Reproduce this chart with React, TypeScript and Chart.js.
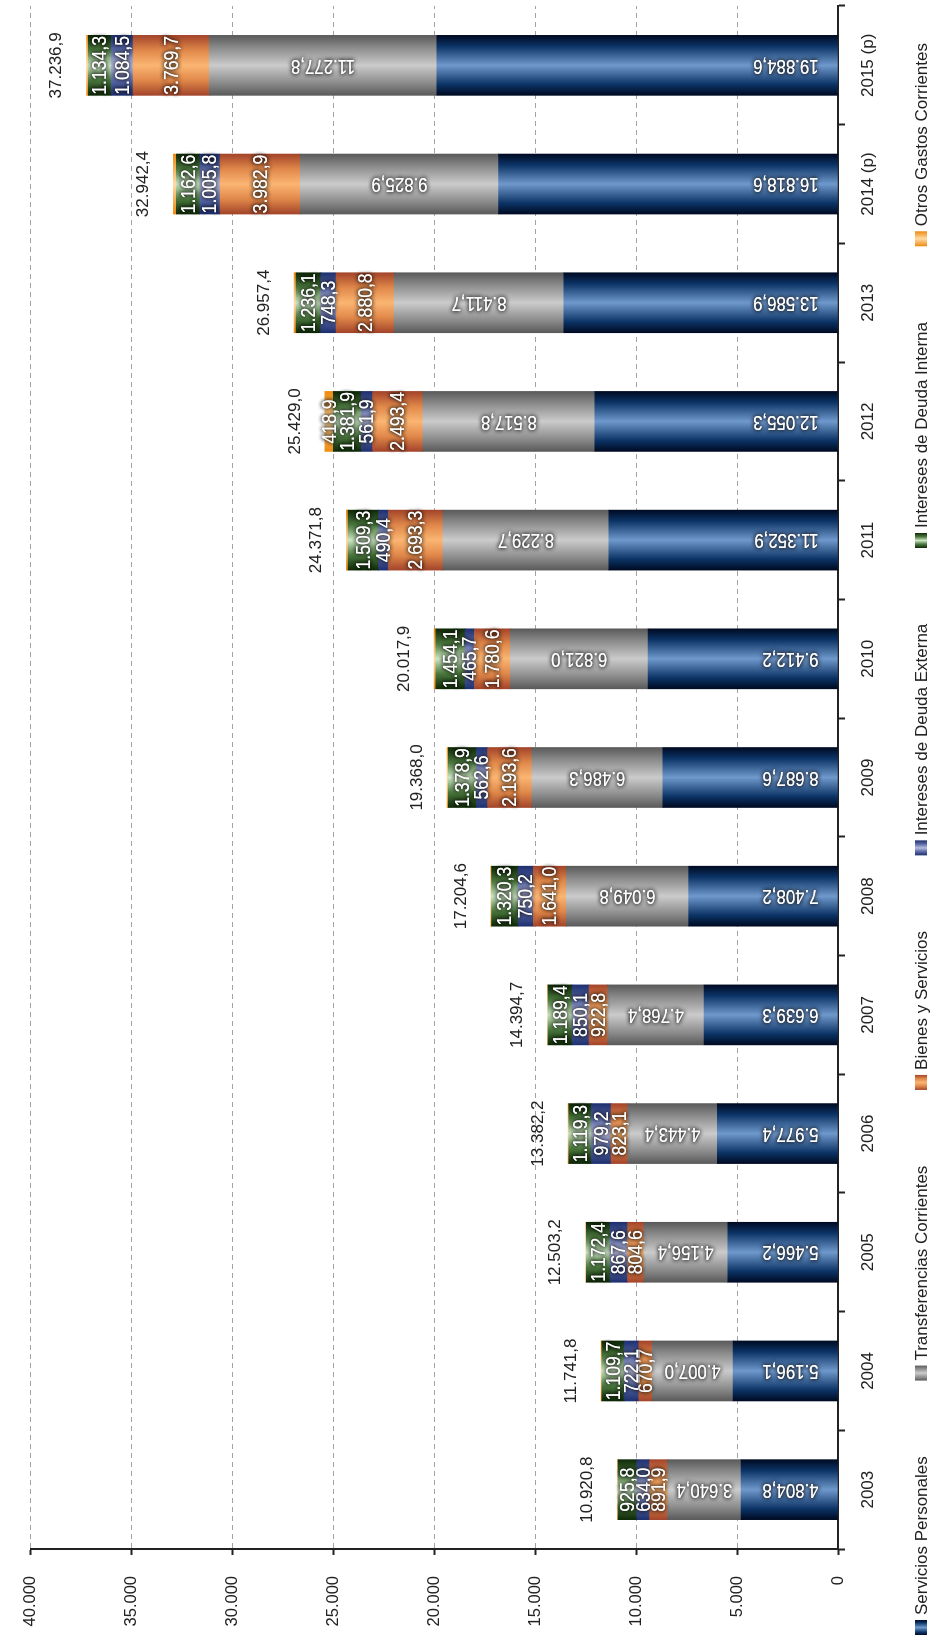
import React, { useEffect, useRef } from "react";
import { Chart, registerables } from "chart.js";

Chart.register(...registerables);

// ---------------- data ----------------
const categories = ["2003", "2004", "2005", "2006", "2007", "2008", "2009", "2010", "2011", "2012", "2013", "2014 (p)", "2015 (p)"];
const serviciosPersonales = [4804.8, 5196.1, 5466.2, 5977.4, 6639.3, 7408.2, 8687.6, 9412.2, 11352.9, 12055.3, 13586.9, 16818.6, 19884.6];
const transferenciasCorrientes = [3640.4, 4007.0, 4156.4, 4443.4, 4768.4, 6049.8, 6486.3, 6821.0, 8229.7, 8517.8, 8411.7, 9825.9, 11277.8];
const bienesYServicios = [891.9, 670.7, 804.6, 823.1, 922.8, 1641.0, 2193.6, 1780.6, 2693.3, 2493.4, 2880.8, 3982.9, 3769.7];
const interesesDeudaExterna = [634.0, 722.1, 867.6, 979.2, 850.1, 750.2, 562.6, 465.7, 490.4, 561.9, 748.3, 1005.8, 1084.5];
const interesesDeudaInterna = [925.8, 1109.7, 1172.4, 1119.3, 1189.4, 1320.3, 1378.9, 1454.1, 1509.3, 1381.9, 1236.1, 1162.6, 1134.3];
const otrosGastosCorrientes = [23.9, 36.2, 36.0, 39.8, 24.7, 35.1, 59.0, 84.3, 96.2, 418.9, 93.6, 146.6, 86.0];
const totales = [10920.8, 11741.8, 12503.2, 13382.2, 14394.7, 17204.6, 19368.0, 20017.9, 24371.8, 25429.0, 26957.4, 32942.4, 37236.9];
const seriesNames = ["Servicios Personales", "Transferencias Corrientes", "Bienes y Servicios", "Intereses de Deuda Externa", "Intereses de Deuda Interna", "Otros Gastos Corrientes"];
const valueMin = 0;
const valueMax = 40000;
const valueStep = 5000;

// ---------------- styles ----------------
const FONT = '"Liberation Sans", Arial, sans-serif';
const BAR = 60;
type Stops = [number, string][];
const gradients: Stops[] = [
  [[0, "#000a22"], [0.18, "#0b3365"], [0.5, "#6f98cc"], [0.82, "#0b3365"], [1, "#000a22"]],
  [[0, "#5a5a5a"], [0.2, "#8a8a8a"], [0.5, "#cbcbcb"], [0.8, "#8a8a8a"], [1, "#5a5a5a"]],
  [[0, "#a3442a"], [0.25, "#e0884a"], [0.5, "#fbb572"], [0.75, "#e0884a"], [1, "#a3442a"]],
  [[0, "#1d2f6e"], [0.25, "#5b6aa8"], [0.5, "#b8bcdf"], [0.75, "#5b6aa8"], [1, "#1d2f6e"]],
  [[0, "#0e2907"], [0.25, "#4b783e"], [0.5, "#cbe7c3"], [0.75, "#4b783e"], [1, "#0e2907"]],
  [[0, "#ee8a10"], [0.5, "#ffdba4"], [1, "#ee8a10"]],
];

function fmt(v: number, dec = 1): string {
  const s = v.toFixed(dec);
  const [i, f] = s.split(".");
  const ii = i.replace(/\B(?=(\d{3})+(?!\d))/g, ".");
  return f !== undefined ? ii + "," + f : ii;
}

function makeGrad(ctx: CanvasRenderingContext2D, x0: number, x1: number, stops: Stops) {
  const g = ctx.createLinearGradient(x0, 0, x1, 0);
  stops.forEach(([o, c]) => g.addColorStop(o, c));
  return g;
}

function scriptableGrad(stops: Stops) {
  return (c: any) => {
    const chart = c.chart;
    const xs = chart.scales && chart.scales.x;
    if (!xs || c.type !== "data") return stops[Math.floor(stops.length / 2)][1];
    const cx = xs.getPixelForValue(c.dataIndex);
    if (!isFinite(cx)) return stops[Math.floor(stops.length / 2)][1];
    return makeGrad(chart.ctx, cx - BAR / 2, cx + BAR / 2, stops);
  };
}

function glowText(ctx: CanvasRenderingContext2D, text: string, x: number, y: number) {
  ctx.shadowColor = "rgba(0,0,0,0.9)";
  ctx.shadowBlur = 4;
  ctx.shadowOffsetX = 0;
  ctx.shadowOffsetY = 0;
  ctx.fillStyle = "#ffffff";
  ctx.fillText(text, x, y);
  ctx.fillText(text, x, y);
}

const labelPlugin = {
  id: "barLabels",
  afterDatasetsDraw(chart: any) {
    const ctx: CanvasRenderingContext2D = chart.ctx;
    const n = chart.data.datasets.length;
    for (let di = 0; di < n; di++) {
      const meta = chart.getDatasetMeta(di);
      const data = chart.data.datasets[di].data as number[];
      meta.data.forEach((el: any, i: number) => {
        const { x, y, base } = el.getProps(["x", "y", "base"], true);
        const v = data[i];
        const txt = fmt(v);
        ctx.save();
        ctx.textBaseline = "middle";
        if (di === 0) {
          ctx.translate(x, base - 19);
          ctx.rotate(-Math.PI / 2);
          ctx.scale(0.8, 1);
          ctx.font = `21px ${FONT}`;
          ctx.textAlign = "left";
          glowText(ctx, txt, 0, 0);
        } else if (di === 1) {
          ctx.translate(x, (y + base) / 2);
          ctx.rotate(-Math.PI / 2);
          ctx.scale(0.8, 1);
          ctx.font = `21px ${FONT}`;
          ctx.textAlign = "center";
          glowText(ctx, txt, 0, 0);
        } else if (di < 5 || v > 300) {
          ctx.translate(x, (y + base) / 2);
          ctx.scale(0.88, 1);
          ctx.font = `20px ${FONT}`;
          ctx.textAlign = "center";
          glowText(ctx, txt, 0, 1);
        }
        ctx.restore();
      });
    }
    // totals
    const lastMeta = chart.getDatasetMeta(n - 1);
    ctx.save();
    ctx.font = `17px ${FONT}`;
    ctx.fillStyle = "#222222";
    ctx.textAlign = "center";
    ctx.textBaseline = "middle";
    lastMeta.data.forEach((el: any, i: number) => {
      const { x, y } = el.getProps(["x", "y"], true);
      ctx.fillText(fmt(totales[i]), x, y - 30);
    });
    ctx.restore();
  },
};

const legendPlugin = {
  id: "customLegend",
  afterDraw(chart: any) {
    const ctx: CanvasRenderingContext2D = chart.ctx;
    ctx.save();
    ctx.font = `17px ${FONT}`;
    ctx.textBaseline = "middle";
    ctx.textAlign = "left";
    const boxW = 15;
    const boxH = 12;
    const gapBox = 5;
    const widths = seriesNames.map((s) => boxW + gapBox + ctx.measureText(s).width);
    const startX = 5;
    const endX = 1597;
    const total = widths.reduce((a, b) => a + b, 0);
    const gap = (endX - startX - total) / (seriesNames.length - 1);
    const cy = 921;
    let xx = startX;
    seriesNames.forEach((name, i) => {
      ctx.fillStyle = makeGrad(ctx, xx, xx + boxW, gradients[i]);
      ctx.fillRect(xx, cy - boxH / 2, boxW, boxH);
      ctx.fillStyle = "#222222";
      ctx.fillText(name, xx + boxW + gapBox, cy + 1);
      xx += widths[i] + gap;
    });
    ctx.restore();
  },
};

export default function App() {
  const canvasRef = useRef<HTMLCanvasElement | null>(null);

  useEffect(() => {
    document.body.style.margin = "0";
    const canvas = canvasRef.current;
    if (!canvas) return;
    const seriesData = [serviciosPersonales, transferenciasCorrientes, bienesYServicios, interesesDeudaExterna, interesesDeudaInterna, otrosGastosCorrientes];
    const chart = new Chart(canvas, {
      type: "bar",
      data: {
        labels: categories,
        datasets: seriesData.map((d, i) => ({
          label: seriesNames[i],
          data: d,
          backgroundColor: scriptableGrad(gradients[i]),
          borderWidth: 0,
          barThickness: BAR,
        })),
      },
      options: {
        responsive: false,
        animation: false,
        devicePixelRatio: 1,
        events: [],
        layout: { padding: { top: 21, right: 6, left: 0, bottom: 0 } },
        plugins: {
          legend: { display: false },
          tooltip: { enabled: false },
          title: { display: false },
        },
        scales: {
          x: {
            stacked: true,
            offset: true,
            grid: {
              display: true,
              drawOnChartArea: false,
              drawTicks: true,
              tickLength: 7,
              tickColor: "#222222",
              tickWidth: 2,
              offset: true,
            },
            border: { display: true, color: "#222222", width: 2 },
            ticks: {
              font: { family: FONT, size: 17 },
              color: "#222222",
              padding: 13,
              maxRotation: 0,
              minRotation: 0,
              autoSkip: false,
            },
            afterFit: (scale: any) => {
              scale.height = 94;
            },
          },
          y: {
            stacked: true,
            min: valueMin,
            max: valueMax,
            grid: {
              color: "#a3a3a3",
              lineWidth: 1,
              drawTicks: true,
              tickLength: 6,
              tickColor: "#222222",
              tickWidth: 2,
            },
            border: { display: true, color: "#222222", width: 2, dash: [5, 4] },
            ticks: {
              stepSize: valueStep,
              font: { family: FONT, size: 16.5 },
              color: "#222222",
              padding: 21,
              callback: (v: any) => fmt(Number(v), 0),
            },
            afterFit: (scale: any) => {
              scale.width = 91;
            },
          },
        },
      },
      plugins: [labelPlugin, legendPlugin],
    });
    return () => chart.destroy();
  }, []);

  return (
    <div style={{ position: "absolute", left: 0, top: 0, width: 932, height: 1640, overflow: "hidden", background: "#ffffff" }}>
      <div
        style={{
          position: "absolute",
          left: 0,
          top: 0,
          width: 1640,
          height: 932,
          transformOrigin: "0 0",
          transform: "translate(0px, 1640px) rotate(-90deg)",
        }}
      >
        <canvas ref={canvasRef} width={1640} height={932} style={{ width: 1640, height: 932, display: "block" }} />
      </div>
    </div>
  );
}
